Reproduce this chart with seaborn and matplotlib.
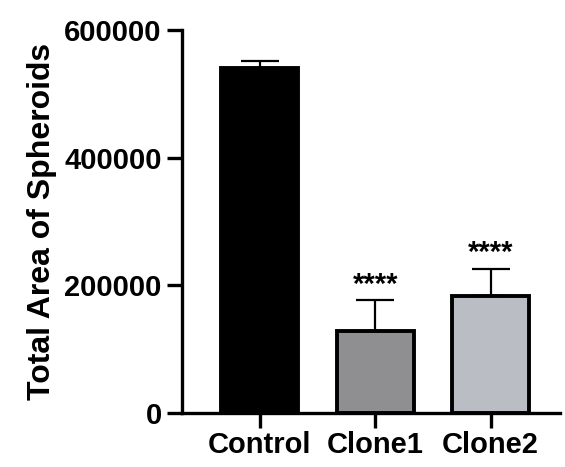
import matplotlib
matplotlib.use("Agg")
import matplotlib.pyplot as plt
import seaborn as sns
import pandas as pd

groups = ["Control", "Clone1", "Clone2"]
means = [541000, 128000, 184000]
sems = [10000, 49000, 42000]
stars = ["", "****", "****"]
colors = ["#000000", "#8e8e92", "#b8bcc6"]

sns.set_style("ticks")
plt.rcParams["font.family"] = ["Liberation Sans", "DejaVu Sans"]
plt.rcParams["font.weight"] = "bold"
plt.rcParams["text.color"] = "black"
plt.rcParams["axes.labelcolor"] = "black"
plt.rcParams["xtick.color"] = "black"
plt.rcParams["ytick.color"] = "black"

df = pd.DataFrame({"group": groups, "area": means})

fig = plt.figure(figsize=(5.65, 4.67), dpi=100)
ax = fig.add_axes([0.322, 0.1156, 0.669, 0.8202])

sns.barplot(data=df, x="group", y="area", hue="group", palette=colors,
            edgecolor="black", linewidth=2.8, width=0.67, errorbar=None,
            legend=False, ax=ax)

# one-sided error bars (upper only)
ax.errorbar(range(len(groups)), means, yerr=[[0] * len(groups), sems],
            fmt="none", ecolor="black", elinewidth=1.6, capsize=14, capthick=1.6,
            zorder=1)

for i, s in enumerate(stars):
    if s:
        ax.annotate(s, (i, means[i] + sems[i]), xytext=(0, 1), textcoords="offset points",
                    ha="center", va="bottom", fontsize=21, fontweight="bold")

ax.set_ylim(0, 600000)
ax.set_xlim(-0.675, 2.6)
ax.set_yticks([0, 200000, 400000, 600000])
ax.set_yticklabels(["0", "200000", "400000", "600000"])
ax.set_xlabel("")
ax.set_ylabel("Total Area of Spheroids", fontsize=23, fontweight="bold", labelpad=5)
ax.tick_params(axis="both", labelsize=21, width=2.4, length=11, color="black")
ax.tick_params(axis="x", pad=2)
for lab in ax.get_xticklabels() + ax.get_yticklabels():
    lab.set_fontweight("bold")

sns.despine(ax=ax)
for sp in ["left", "bottom"]:
    ax.spines[sp].set_linewidth(2.4)
    ax.spines[sp].set_color("black")

fig.savefig("out.png", dpi=100)
